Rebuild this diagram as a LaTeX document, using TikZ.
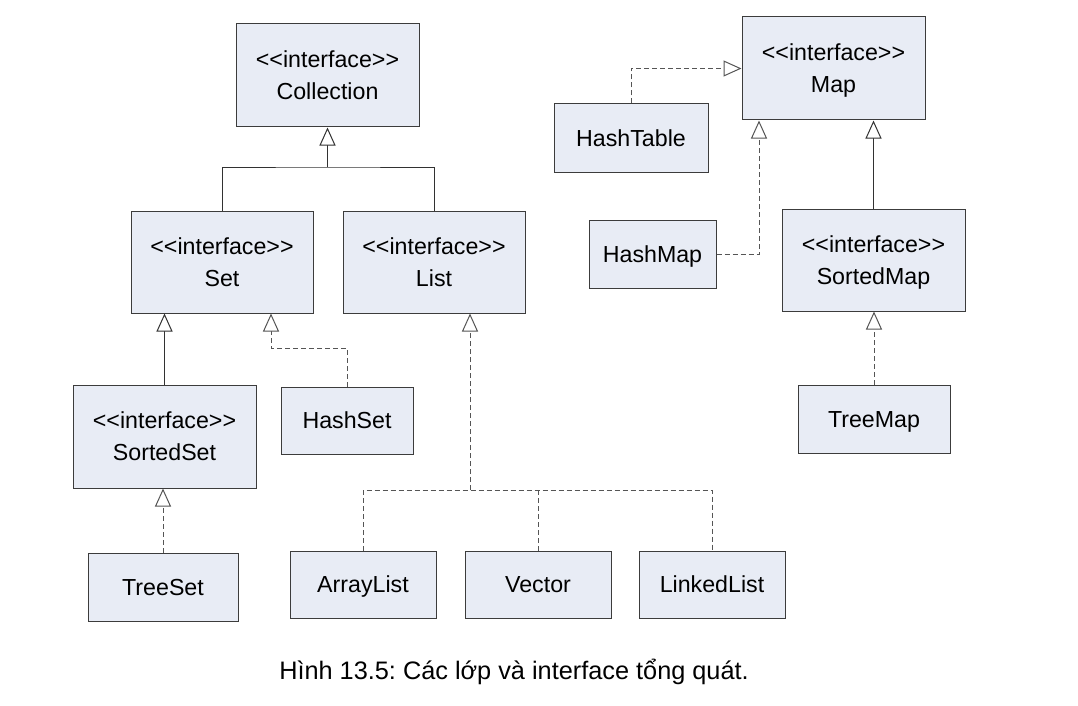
\documentclass[tikz,border=0pt]{standalone}
\usepackage{fontspec}
\setmainfont{Liberation Sans}
\usetikzlibrary{arrows.meta}
\definecolor{boxfill}{RGB}{232,236,245}
\definecolor{boxline}{RGB}{60,60,60}
\definecolor{conn}{RGB}{50,50,50}
\definecolor{dconn}{RGB}{85,85,85}
\newcommand{\ms}{\rule[-5pt]{0pt}{26.6pt}}
\newcommand{\iface}{<{}<interface>{}>}
\tikzset{
  cls/.style={draw=boxline, fill=boxfill, line width=1pt, inner sep=0pt, align=center,
    font=\fontsize{23.2}{32}\selectfont, text=black},
  solidln/.style={draw=conn, line width=1pt},
  dashln/.style={draw=dconn, line width=1pt, dash pattern=on 5pt off 3pt},
  inhtip/.style={-{Triangle[open, length=18pt, width=16pt, line width=1pt, fill=white]}},
}
\begin{document}
\frenchspacing
\begin{tikzpicture}[x=1pt, y=-1pt]
\useasboundingbox (0,0) rectangle (1078,706);
% nodes
\node[cls, minimum width=183pt, minimum height=103pt] (Collection) at (327.5,75.5) {\ms\iface\\\ms Collection};
\node[cls, minimum width=182pt, minimum height=102pt] (Set) at (222,262) {\ms\iface\\\ms Set};
\node[cls, minimum width=182pt, minimum height=102pt] (List) at (434,262) {\ms\iface\\\ms List};
\node[cls, minimum width=183pt, minimum height=103pt] (SortedSet) at (164.5,436.5) {\ms\iface\\\ms SortedSet};
\node[cls, minimum width=132pt, minimum height=67pt] (HashSet) at (347,420.5) {\ms HashSet};
\node[cls, minimum width=150pt, minimum height=68pt] (TreeSet) at (163,587) {\ms TreeSet};
\node[cls, minimum width=146pt, minimum height=67pt] (ArrayList) at (363,584.5) {\ms ArrayList};
\node[cls, minimum width=146pt, minimum height=67pt] (Vector) at (538,584.5) {\ms Vector};
\node[cls, minimum width=146pt, minimum height=67pt] (LinkedList) at (712,584.5) {\ms LinkedList};
\node[cls, minimum width=183pt, minimum height=103pt] (Map) at (833.5,68.5) {\ms\iface\\\ms Map};
\node[cls, minimum width=154pt, minimum height=68pt] (HashTable) at (631,138) {\ms HashTable};
\node[cls, minimum width=127pt, minimum height=68pt] (HashMap) at (652.5,254) {\ms HashMap};
\node[cls, minimum width=183pt, minimum height=102pt] (SortedMap) at (873.5,260) {\ms\iface\\\ms SortedMap};
\node[cls, minimum width=152pt, minimum height=68pt] (TreeMap) at (874,419) {\ms TreeMap};
% caption
\node[font=\fontsize{25.3}{30}\selectfont] (caption) at (514,672) {Hình 13.5: Các lớp và interface tổng quát.};
% junction coordinates
\coordinate (cj) at (327.5,167);
\coordinate (hs) at (271,348);
\coordinate (lj) at (470,490);
\coordinate (hm) at (759,254);
% Collection hierarchy
\draw[solidln] (Set.north) |- (cj) -| (List.north);
\draw[solidln, inhtip] (cj) -- (Collection.south);
\draw[solidln, inhtip] (SortedSet.north) -- (SortedSet.north |- Set.south);
\draw[dashln, inhtip] (HashSet.north) |- (hs) -- (hs |- Set.south);
\draw[dashln, inhtip] (TreeSet.north) -- (TreeSet.north |- SortedSet.south);
\draw[dashln] (ArrayList.north) |- (lj) -| (LinkedList.north);
\draw[dashln] (Vector.north) -- (Vector.north |- lj);
\draw[dashln, inhtip] (lj) -- (lj |- List.south);
% Map hierarchy
\draw[dashln, inhtip] (HashTable.north) |- (Map.west);
\draw[dashln, inhtip] (HashMap.east) -- (hm) -- (hm |- Map.south);
\draw[solidln, inhtip] (SortedMap.north) -- (SortedMap.north |- Map.south);
\draw[dashln, inhtip] (TreeMap.north) -- (TreeMap.north |- SortedMap.south);
\end{tikzpicture}
\end{document}
